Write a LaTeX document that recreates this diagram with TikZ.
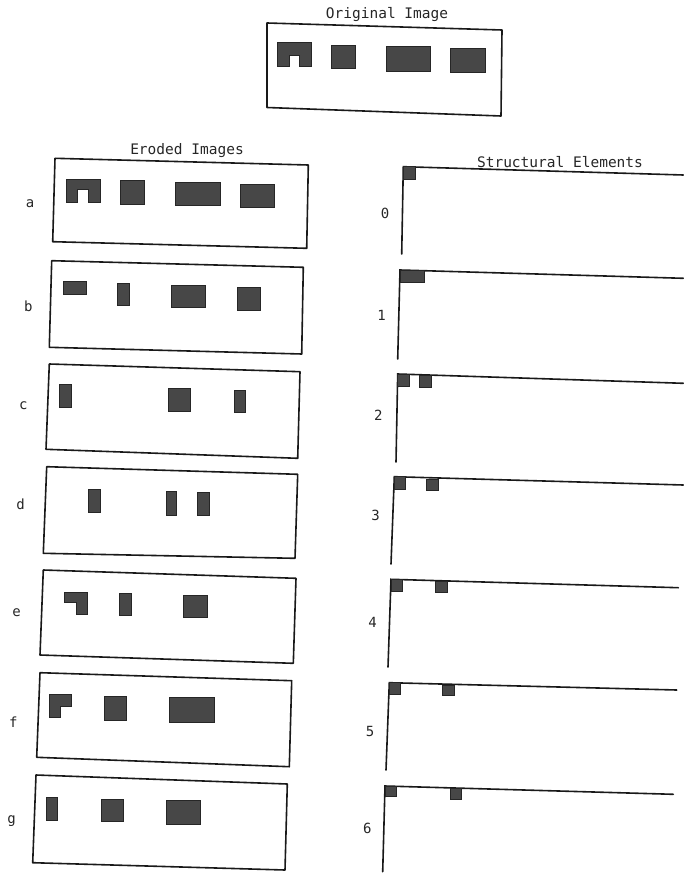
\documentclass[tikz,border=0pt]{standalone}
\usepackage{fontspec}
\setmonofont{DejaVu Sans Mono}
\begin{document}
\begin{tikzpicture}[
  x=1pt,y=-1pt,
  frame/.style={draw=black!90,line width=1.6pt,line join=round},
  axis/.style={draw=black!90,line width=1.6pt,line cap=round},
  blob/.style={draw=black!85,fill=black!72,line width=0.8pt},
  tag/.style={font=\ttfamily\fontsize{14}{16}\selectfont,text=black!85},
  title/.style={font=\ttfamily\fontsize{14.5}{17}\selectfont,text=black!85},
]
\useasboundingbox (0,0) rectangle (684,890);
% original image
\node[title] (origtitle) at (387,15) {Original Image};
\draw[frame] (267,23) -- (502,30) -- (501,116) -- (267,107.5) -- cycle;
\draw[blob] (277.3,42.7) -- (311.7,42.7) -- (311.7,66.7) -- (299.3,66.7) -- (299.3,55) -- (289.3,55) -- (289.3,66.7) -- (277.3,66.7) -- cycle;
\draw[blob] (331.7,45.7) rectangle (355,68.3);
\draw[blob] (386.7,46.7) rectangle (430,71);
\draw[blob] (450,48.3) rectangle (485,72.7);
% eroded images
\node[title] (erotitle) at (187,151) {Eroded Images};
\node[tag] (taga) at (30,204) {a};
\draw[frame] (55,158.3) -- (308.3,165) -- (306.7,248.3) -- (52.7,241.7) -- cycle;
\draw[blob] (66.7,179.3) -- (100,179.3) -- (100,202.7) -- (88.3,202.7) -- (88.3,189.3) -- (77.7,189.3) -- (77.7,202.7) -- (66.7,202.7) -- cycle;
\draw[blob] (120.7,180.7) rectangle (144.3,204);
\draw[blob] (175,182.3) rectangle (220,205);
\draw[blob] (240.7,184) rectangle (274,207.3);
\node[tag] (tagb) at (28.3,306) {b};
\draw[frame] (51.7,260.7) -- (303.3,267.3) -- (301.7,354) -- (49.3,347.3) -- cycle;
\draw[blob] (63.3,281.7) rectangle (86,294);
\draw[blob] (117.7,283.3) rectangle (129,305.7);
\draw[blob] (171.7,285) rectangle (205,307.7);
\draw[blob] (237.3,287.3) rectangle (260,310.7);
\node[tag] (tagc) at (23.3,406) {c};
\draw[frame] (49.3,364) -- (300,371.7) -- (297.7,458.3) -- (46,449.3) -- cycle;
\draw[blob] (59.3,384.3) rectangle (71,407.7);
\draw[blob] (168.3,388.3) rectangle (190.7,411);
\draw[blob] (234,390.7) rectangle (245.7,412.7);
\node[tag] (tagd) at (20.7,504) {d};
\draw[frame] (46.7,466.7) -- (297.7,474.3) -- (295,558.3) -- (43.3,553.3) -- cycle;
\draw[blob] (88.3,489.3) rectangle (100,512.3);
\draw[blob] (166,491.7) rectangle (176.7,515);
\draw[blob] (197.3,492.3) rectangle (209,515.7);
\node[tag] (tage) at (16.7,613) {e};
\draw[frame] (43.3,570) -- (296,578.3) -- (293.3,663.3) -- (40,655) -- cycle;
\draw[blob] (64.3,592) -- (87.3,592) -- (87.3,614.3) -- (76,614.3) -- (76,602.7) -- (64.3,602.7) -- cycle;
\draw[blob] (119.3,593.3) rectangle (131,615.7);
\draw[blob] (183.3,595) rectangle (207.7,617.7);
\node[tag] (tagf) at (13.3,721.7) {f};
\draw[frame] (40,672.7) -- (291.7,680.7) -- (289.3,766.7) -- (36.7,757.3) -- cycle;
\draw[blob] (49,694.3) -- (71.7,694.3) -- (71.7,706.7) -- (60,706.7) -- (60,717.3) -- (49,717.3) -- cycle;
\draw[blob] (104,696) rectangle (126.7,720);
\draw[blob] (169,697.7) rectangle (214,722.3);
\node[tag] (tagg) at (11.7,820.7) {g};
\draw[frame] (36,775) -- (287.3,784) -- (285,870) -- (32.7,862.7) -- cycle;
\draw[blob] (46,797.3) rectangle (57.7,820);
\draw[blob] (101,799) rectangle (123.3,821.7);
\draw[blob] (166.7,800.7) rectangle (200,824);
% structural elements
\node[title] (settitle) at (560,162) {Structural Elements};
\node[tag] (tag0) at (385,213.3) {0};
\draw[axis] (401.7,254) -- (403.3,166.7) -- (683.3,175);
\draw[blob] (403.3,166.7) rectangle (415,179.3);
\node[tag] (tag1) at (381.7,315) {1};
\draw[axis] (397.7,359) -- (400,270) -- (683.3,278.3);
\draw[blob] (400,270) rectangle (424.3,282.3);
\node[tag] (tag2) at (378.3,415) {2};
\draw[axis] (396,462) -- (397.7,374) -- (683.3,383.3);
\draw[blob] (397.7,374) rectangle (409,386);
\draw[blob] (419,375.7) rectangle (431,387.3);
\node[tag] (tag3) at (375.7,515) {3};
\draw[axis] (391,564) -- (394.3,476.7) -- (683.3,485);
\draw[blob] (394.3,476.7) rectangle (405.7,489);
\draw[blob] (426.7,479) rectangle (438.3,490);
\node[tag] (tag4) at (372.7,622.7) {4};
\draw[axis] (388,667) -- (391,579.3) -- (678.3,587.7);
\draw[blob] (391,579.3) rectangle (402.3,591.7);
\draw[blob] (435.7,581.7) rectangle (447.3,592.3);
\node[tag] (tag5) at (370,731.7) {5};
\draw[axis] (386,770) -- (389.3,682.7) -- (676.7,690);
\draw[blob] (389.3,682.7) rectangle (400,694);
\draw[blob] (442.7,685) rectangle (454.3,695.7);
\node[tag] (tag6) at (367.3,828.3) {6};
\draw[axis] (382.7,871.7) -- (385,786) -- (673.3,794.3);
\draw[blob] (385,786) rectangle (396,796.7);
\draw[blob] (450.7,788.3) rectangle (461,799);
\end{tikzpicture}
\end{document}
